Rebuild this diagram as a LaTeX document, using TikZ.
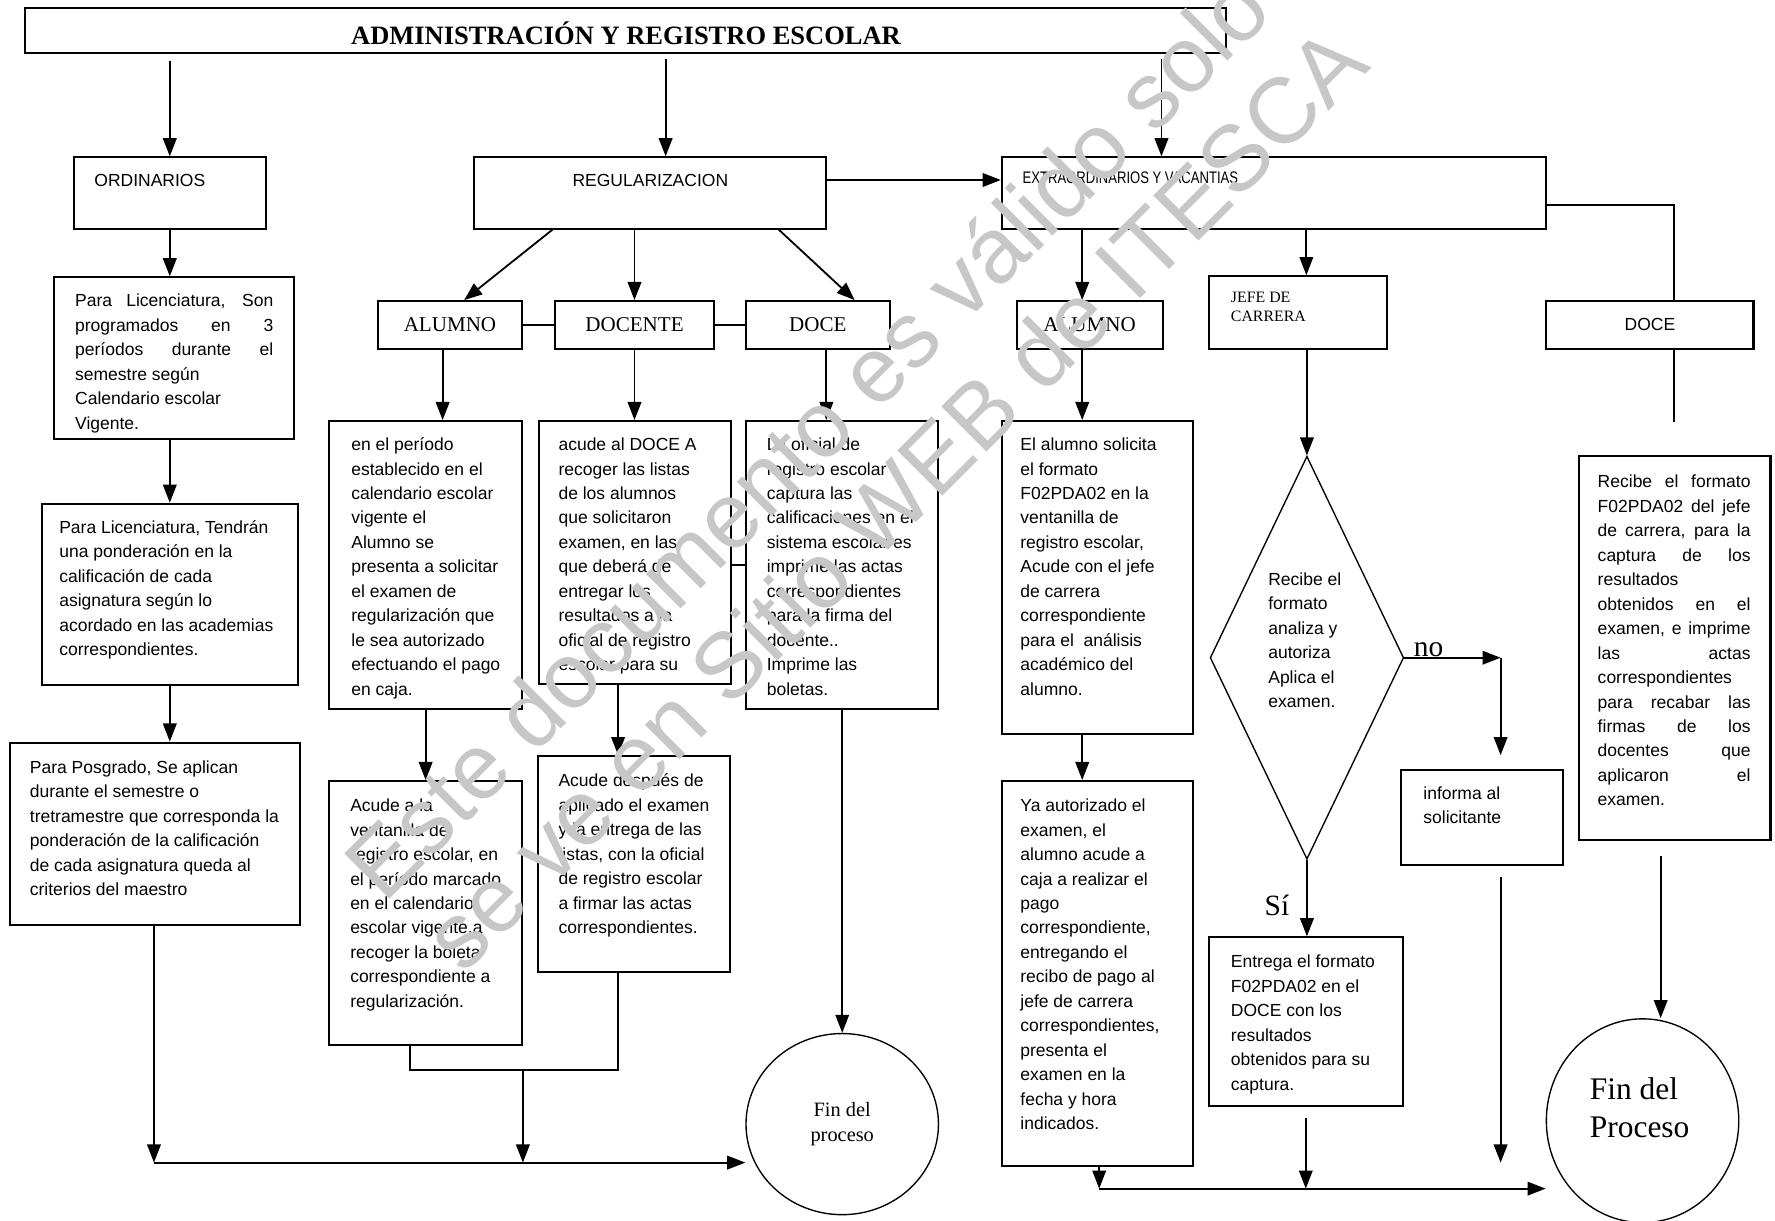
\documentclass[tikz,border=0pt]{standalone}
\usepackage{fontspec}
\usepackage{graphicx}
\setmainfont{Liberation Serif}
\setsansfont{Liberation Sans}
\usetikzlibrary{arrows.meta,fit,shapes.geometric,calc}
\newcommand\bt{\sffamily\fontsize{7.73}{10.8}\selectfont}
\newcommand\jA[1]{\makebox[87.5pt][s]{#1}}
\newcommand\jB[1]{\makebox[67.5pt][s]{#1}}
\begin{document}
\begin{tikzpicture}[x=0.5pt,y=-0.5pt,
  box/.style={draw,line width=0.9pt,inner sep=0pt},
  arr/.style={line width=0.8pt,-{Triangle[length=8pt,width=6pt]}},
  ln/.style={line width=0.8pt},
  txt/.style={anchor=north west,inner sep=0pt,align=left,font=\bt},
  tm/.style={inner sep=0pt,font=\rmfamily\fontsize{9.3}{11}\selectfont},
  wm/.style={inner sep=0pt,text=black!22,font=\sffamily\fontsize{41}{48}\selectfont,rotate=45}
]
\useasboundingbox (0,0) rectangle (1568,1078);
\fill[white] (0,0) rectangle (1568,1078);

% ---------- frames ----------
\node[box,fit={(22,7)(1083,47)}] (title) {};
\node[box,fit={(65,139)(235,202)}] (ord) {};
\node[box,fit={(419,139)(730,202)}] (reg) {};
\node[box,fit={(885,139)(1366,202)}] (extra) {};
\node[box,fit={(48,245)(260,388)}] (b1) {};
\node[box,fit={(37,445)(263,605)}] (b2) {};
\node[box,fit={(9,656)(265,817)}] (b3) {};
\node[box,fit={(334,266)(461,308)}] (alu) {};
\node[box,fit={(490,266)(631,308)}] (doc) {};
\node[box,fit={(659,266)(786,308)}] (doce) {};
\node[box,fit={(291,372)(461,626)}] (a1) {};
\node[box,fit={(476,372)(646,604)}] (d1) {};
\node[box,fit={(659,372)(829,626)}] (c1) {};
\node[box,fit={(291,690)(461,923)}] (a2) {};
\node[box,fit={(475,668)(645,859)}] (d2) {};
\node[box,fit={(898,266)(1027,308)}] (alu2) {};
\node[box,fit={(1068,244)(1225,308)}] (jefe) {};
\node[box,fit={(1366,266)(1549,308)}] (doce2) {};
\node[box,fit={(885,372)(1054,648)}] (e1) {};
\node[box,fit={(885,690)(1054,1030)}] (e2) {};
\node[box,fit={(1238,680)(1381,764)}] (inf) {};
\node[box,fit={(1068,828)(1239,977)}] (s1) {};
\node[box,fit={(1395,403)(1564,742)}] (r1) {};
\node[draw,diamond,line width=0.6pt,minimum width=85.5pt,minimum height=178pt,inner sep=0pt] (dia) at (1154.5,581) {};
\node[draw,ellipse,line width=0.6pt,minimum width=85pt,minimum height=80pt,inner sep=0pt,align=center,font=\rmfamily\fontsize{9}{11}\selectfont] (fin1) at (744,993) {Fin del\\proceso};
\node[draw,ellipse,line width=0.6pt,minimum width=85pt,minimum height=90pt,inner sep=0pt] (fin2) at (1451,990) {};

% ---------- texts ----------
\node[inner sep=0pt,font=\rmfamily\bfseries\fontsize{11.7}{14}\selectfont] (titlet) at (553,29) {ADMINISTRACIÓN Y REGISTRO ESCOLAR};
\node[txt] (ordt) at (83,149.5) {\strut ORDINARIOS};
\node[txt,anchor=north] (regt) at (574.5,149.5) {\strut REGULARIZACION};
\node[inner sep=0pt,anchor=west] (extrat) at (903,157) {\scalebox{0.78}[1]{\sffamily\fontsize{7.4}{9}\selectfont EXTRAORDINARIOS Y VACANTIAS}};
\node[txt] (b1t) at (66,255.5) {\strut\jA{Para Licenciatura, Son}\\\jA{programados en 3}\\\jA{períodos durante el}\\semestre según\\Calendario escolar\\Vigente.};
\node[txt] (b2t) at (52,455.5) {\strut Para Licenciatura, Tendrán\\una ponderación en la\\calificación de cada\\asignatura según lo\\acordado en las academias\\correspondientes.};
\node[txt] (b3t) at (26,667.5) {\strut Para Posgrado, Se aplican\\durante el semestre o\\tretramestre que corresponda la\\ponderación de la calificación\\de cada asignatura queda al\\criterios del maestro};
\node[tm] (alut) at (alu) {ALUMNO};
\node[tm] (doct) at (doc) {DOCENTE};
\node[tm] (docet) at (doce) {DOCE};
\node[tm] (alu2t) at (alu2) {ALUMNO};
\node[inner sep=0pt,font=\bt] (doce2t) at (doce2) {DOCE};
\node[anchor=north west,inner sep=0pt,align=left,font=\rmfamily\fontsize{7}{8.5}\selectfont] (jefet) at (1087,254.7) {\strut JEFE DE\\CARRERA};
\node[txt] (a1t) at (310,382.5) {\strut en el período\\establecido en el\\calendario escolar\\vigente el\\Alumno se\\presenta a solicitar\\el examen de\\regularización que\\le sea autorizado\\efectuando el pago\\en caja.};
\node[txt] (d1t) at (493,382.5) {\strut acude al DOCE A\\recoger las listas\\de los alumnos\\que solicitaron\\examen, en las\\que deberá de\\entregar los\\resultados a la\\oficial de registro\\escolar para su};
\node[txt] (c1t) at (677,382.5) {\strut La oficial de\\registro escolar\\captura las\\calificaciones en el\\sistema escolar es\\imprime las actas\\correspondientes\\para la firma del\\docente..\\Imprime las\\boletas.};
\node[txt] (a2t) at (309,701.5) {\strut Acude a la\\ventanilla de\\registro escolar, en\\el período marcado\\en el calendario\\escolar vigente.a\\recoger la boleta\\correspondiente a\\regularización.};
\node[txt] (d2t) at (493,679.5) {\strut Acude después de\\aplicado el examen\\y la entrega de las\\listas, con la oficial\\de registro escolar\\a firmar las actas\\correspondientes.};
\node[txt] (e1t) at (901,382.5) {\strut El alumno solicita\\el formato\\F02PDA02 en la\\ventanilla de\\registro escolar,\\Acude con el jefe\\de carrera\\correspondiente\\para el \ análisis\\académico del\\alumno.};
\node[txt] (e2t) at (901,701.5) {\strut Ya autorizado el\\examen, el\\alumno acude a\\caja a realizar el\\pago\\correspondiente,\\entregando el\\recibo de pago al\\jefe de carrera\\correspondientes,\\presenta el\\examen en la\\fecha y hora\\indicados.};
\node[txt] (diat) at (1120,501.5) {\strut Recibe el\\formato\\analiza y\\autoriza\\Aplica el\\examen.};
\node[txt] (inft) at (1257,690.5) {\strut informa al\\solicitante};
\node[txt] (s1t) at (1087,839.5) {\strut Entrega el formato\\F02PDA02 en el\\DOCE con los\\resultados\\obtenidos para su\\captura.};
\node[txt] (r1t) at (1411,415.5) {\strut\jB{Recibe el formato}\\\jB{F02PDA02 del jefe}\\\jB{de carrera, para la}\\\jB{captura de los}\\resultados\\\jB{obtenidos en el}\\\jB{examen, e imprime}\\\jB{las actas}\\correspondientes\\\jB{para recabar las}\\\jB{firmas de los}\\\jB{docentes que}\\\jB{aplicaron el}\\examen.};
\node[anchor=north west,inner sep=0pt,align=left,font=\rmfamily\fontsize{13.9}{16.5}\selectfont] (fin2t) at (1404,948) {\strut Fin del\\Proceso};
\node[inner sep=0pt,font=\rmfamily\fontsize{13}{15}\selectfont] (no) at (1262,574) {no};
\node[inner sep=0pt,font=\rmfamily\fontsize{13}{15}\selectfont] (si) at (1128,800) {Sí};

% ---------- connectors ----------
\draw[arr] (title.south -| ord.north) ++(0,6) -- (ord.north);
\draw[arr] ($(reg.north)+(13.5,-86)$) -- ($(reg.north)+(13.5,0)$);
\draw[arr] ($(extra.north)+(-99.5,-86)$) -- ($(extra.north)+(-99.5,0)$);
\draw[arr] (ord.south) -- (ord.south |- b1.north);
\draw[arr] (b1.south -| ord.south) -- (b2.north -| ord.south);
\draw[arr] (b2.south -| ord.south) -- (b3.north -| ord.south);
\coordinate (jL) at (136,1027);
\draw[arr] (b3.south -| jL) -- (jL);
\draw[arr] (jL) -- (jL -| fin1.west);

\draw[arr] ($(reg.east)+(0,-11.5)$) -- ($(extra.west)+(0,-11.5)$);
\draw[arr] ($(reg.south)+(-86.5,0)$) -- ($(alu.north)+(12.5,0)$);
\draw[arr] (doc.north |- reg.south) -- (doc.north);
\draw[arr] ($(reg.south)+(113.5,0)$) -- ($(doce.north)+(32.5,0)$);
\draw[ln] (alu.east) -- (doc.west);
\draw[ln] (doc.east) -- (doce.west);
\path ($(alu.south)+(-6.5,0)$) coordinate (t1);
\draw[arr] (t1) -- (t1 |- a1.north);
\draw[arr] (doc.south) -- (doc.south |- d1.north);
\path ($(doce.south)+(7.5,0)$) coordinate (t2);
\draw[arr] (t2) -- (t2 |- c1.north);
\draw[ln] (c1.west) -- (c1.west -| d1.east);
\draw[arr] (a1.south) -- (a1.south |- a2.north);
\path ($(d1.south)+(-15,0)$) coordinate (t3);
\draw[arr] (t3) -- (t3 |- d2.north);
\path ($(a2.south)+(-14,21)$) coordinate (j1);
\draw[ln] ($(a2.south)+(-14,0)$) -- (j1) -| ($(d2.south)+(-14,0)$);
\draw[arr] (j1 -| a2.east) -- (jL -| a2.east);
\draw[arr] (c1.south) -- (fin1.north);

\path ($(alu2.north)+(-6.5,0)$) coordinate (t4);
\draw[arr] (t4 |- extra.south) -- (t4);
\path ($(jefe.north)+(7.5,0)$) coordinate (t5);
\draw[arr] (t5 |- extra.south) -- (t5);
\draw[ln] ($(extra.east)+(0,10.5)$) -| ($(doce2.north)+(21.5,0)$);
\path ($(alu2.south)+(-6.5,0)$) coordinate (t6);
\draw[arr] (t6) -- (t6 |- e1.north);
\path ($(e1.south)+(-13.5,0)$) coordinate (t7);
\draw[arr] (t7) -- (t7 |- e2.north);
\coordinate (jR) at (971,1050);
\draw[arr] (e2.south -| jR) -- (jR);
\draw[arr] (jR) -- (jR -| fin2.west);
\draw[arr] (dia.north |- jefe.south) -- (dia.north);
\path (dia.east) ++(85,0) coordinate (nr);
\draw[arr] (dia.east) -- (nr);
\draw[arr,shorten >=6pt] (nr) -- (nr |- inf.north);
\draw[arr] (dia.south) -- (dia.south |- s1.north);
\path ($(s1.south)+(0,10)$) coordinate (t8);
\draw[arr] (t8) -- (t8 |- jR);
\path ($(inf.south -| nr)+(0,10)$) coordinate (t10);
\draw[arr] (t10) -- (nr |- jL);
\draw[ln] ($(doce2.south)+(21.5,0)$) -- ++(0,64);
\path ($(r1.south)+(-12.5,13)$) coordinate (t9);
\draw[arr] (t9) -- (t9 |- fin2.north);

% ---------- watermark ----------
\node[wm] (wm1) at (712,385) {Este documento es válido solo};
\node[wm] (wm2) at (790,440) {se ve en Sitio WEB de ITESCA};
\end{tikzpicture}
\end{document}
